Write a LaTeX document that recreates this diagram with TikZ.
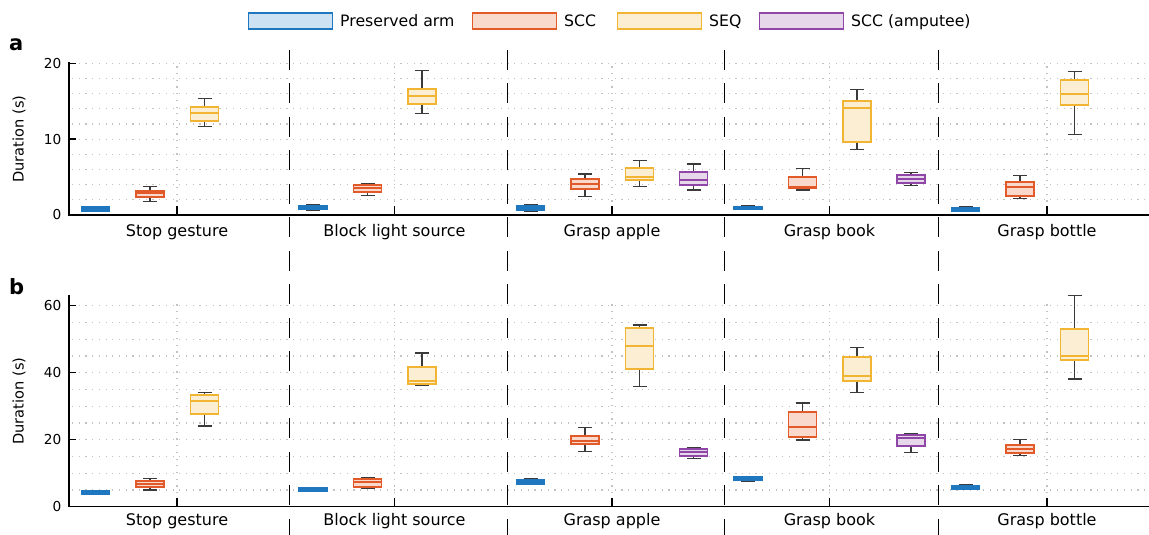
\documentclass[tikz,border=0pt]{standalone}
\usepackage{fontspec}
\setmainfont{DejaVu Sans}
\definecolor{blueE}{HTML}{1F77C0}
\definecolor{blueF}{HTML}{CDE2F3}
\definecolor{orangeE}{HTML}{E2592A}
\definecolor{orangeF}{HTML}{F8D9CC}
\definecolor{yellowE}{HTML}{F1B533}
\definecolor{yellowF}{HTML}{FBEED2}
\definecolor{purpleE}{HTML}{8F46A6}
\definecolor{purpleF}{HTML}{E6D7EA}
\definecolor{whiskc}{HTML}{3A3A3A}
\definecolor{gridc}{HTML}{C2C2C2}
\newcommand{\bpl}[7]{%
  \draw[whisk] (#1,#2) -- (#1,#3) (#1,#5) -- (#1,#6) (#1-7,#2) -- (#1+7,#2) (#1-7,#6) -- (#1+7,#6);
  \draw[boxline, draw=#7E, fill=#7F] (#1-14,#3) rectangle (#1+14,#5);
  \draw[boxline, draw=#7E] (#1-14,#4) -- (#1+14,#4);
}
\begin{document}
\begin{tikzpicture}[x=1pt,y=1pt,
  whisk/.style={draw=whiskc, line width=1.4pt},
  boxline/.style={line width=1.9pt},
  gridl/.style={draw=gridc, line width=1.25pt, dash pattern=on 1.25pt off 5.45pt},
  axisl/.style={draw=black, line width=1.4pt},
  sepl/.style={draw=black, line width=1.5pt, dash pattern=on 20pt off 13.5pt},
  catlab/.style={font=\fontsize{16}{18}\selectfont, anchor=base},
  ticklab/.style={font=\fontsize{13.7}{15}\selectfont, anchor=east, inner sep=0pt},
  ylab/.style={font=\fontsize{14.6}{16}\selectfont, rotate=90},
  leglab/.style={font=\fontsize{15.7}{18}\selectfont, anchor=base west, inner sep=0pt},
  legbox/.style={line width=1.6pt, minimum width=84pt, minimum height=16.5pt, inner sep=0pt},
  panlab/.style={font=\fontsize{21}{24}\selectfont\bfseries, anchor=base west, inner sep=0pt}]
\useasboundingbox (0,0) rectangle (1149,535);

% ---------- legend ----------
\node[legbox, draw=blueE, fill=blueF, anchor=center] (lg1) at (290.5,514) {};
\node[leglab] (lt1) at (340,508.2) {Preserved arm};
\node[legbox, draw=orangeE, fill=orangeF, anchor=center] (lg2) at (514.5,514) {};
\node[leglab] (lt2) at (564,508.2) {SCC};
\node[legbox, draw=yellowE, fill=yellowF, anchor=center] (lg3) at (659.5,514) {};
\node[leglab] (lt3) at (709,508.2) {SEQ};
\node[legbox, draw=purpleE, fill=purpleF, anchor=center] (lg4) at (801.5,514) {};
\node[leglab] (lt4) at (851,508.2) {SCC (amputee)};

% ---------- panel labels ----------
\node[panlab] (pa) at (9,484.3) {a};
\node[panlab] (pb) at (9,240) {b};

% ---------- separators ----------
\foreach \s [count=\k] in {289.7,507.7,724.7,938.7}{
  \draw[sepl] (\s,485) -- (\s,0);
}

% ---------- panel a ----------
\begin{scope}[shift={(0pt,320pt)}, y=7.58pt]
  \foreach \v in {2,4,...,20}{ \draw[gridl] (72,\v) -- (1149,\v); }
  \foreach \c in {177,394.5,612,829.5,1047}{ \draw[gridl] (\c,0) -- (\c,20); }
  \draw[axisl] (69,20.2) -- (69,0) -- (1149,0);
  \foreach \v in {0,10,20}{
    \draw[axisl] (69,\v) -- ++(7pt,0pt);
    \node[ticklab] (ta\v) at (61.5,\v) {\v};
  }
  \foreach \c/\t [count=\k] in {177/Stop gesture,394.5/Block light source,612/Grasp apple,829.5/Grasp book,1047/Grasp bottle}{
    \draw[axisl] (\c,0) -- ++(0pt,9pt);
    \node[catlab] (ca\k) at (\c,-2.9) {\t};
  }
  \node[ylab] (ya) at (19,10) {Duration (s)};
  % Stop gesture
  \bpl{95.5}{0.5}{0.57}{0.8}{1.0}{1.1}{blue}
  \bpl{150}{1.8}{2.42}{2.86}{3.17}{3.73}{orange}
  \bpl{204.5}{11.65}{12.44}{13.5}{14.29}{15.34}{yellow}
  % Block light source
  \bpl{313}{0.62}{0.79}{1.0}{1.23}{1.3}{blue}
  \bpl{367.5}{2.6}{3.08}{3.52}{3.92}{4.18}{orange}
  \bpl{422}{13.4}{14.69}{15.65}{16.58}{19.08}{yellow}
  % Grasp apple
  \bpl{530.5}{0.5}{0.66}{0.9}{1.14}{1.36}{blue}
  \bpl{585}{2.46}{3.39}{4.05}{4.75}{5.4}{orange}
  \bpl{639.5}{3.78}{4.58}{5.06}{6.24}{7.17}{yellow}
  \bpl{693.5}{3.3}{3.92}{4.62}{5.71}{6.73}{purple}
  % Grasp book
  \bpl{748}{0.7}{0.75}{0.9}{1.1}{1.27}{blue}
  \bpl{802.5}{3.3}{3.52}{3.65}{5.05}{6.11}{orange}
  \bpl{857}{8.62}{9.59}{14.16}{15.08}{16.53}{yellow}
  \bpl{911}{3.92}{4.27}{4.75}{5.24}{5.58}{purple}
  % Grasp bottle
  \bpl{965.5}{0.5}{0.53}{0.75}{0.92}{1.06}{blue}
  \bpl{1020}{2.15}{2.55}{3.65}{4.35}{5.19}{orange}
  \bpl{1074.5}{10.6}{14.55}{15.96}{17.77}{18.95}{yellow}
\end{scope}

% ---------- panel b ----------
\begin{scope}[shift={(0pt,28.3pt)}, y=3.35pt]
  \foreach \v in {5,10,...,60}{ \draw[gridl] (72,\v) -- (1149,\v); }
  \foreach \c in {177,394.5,612,829.5,1047}{ \draw[gridl] (\c,0) -- (\c,61.2); }
  \draw[axisl] (69,63.2) -- (69,0) -- (1149,0);
  \foreach \v in {0,20,40,60}{
    \draw[axisl] (69,\v) -- ++(7pt,0pt);
    \node[ticklab] (tb\v) at (61.5,\v) {\v};
  }
  \foreach \c/\t [count=\k] in {177/Stop gesture,394.5/Block light source,612/Grasp apple,829.5/Grasp book,1047/Grasp bottle}{
    \draw[axisl] (\c,0) -- ++(0pt,9pt);
    \node[catlab] (cb\k) at (\c,-5.5) {\t};
  }
  \node[ylab] (yb) at (19,31.5) {Duration (s)};
  % Stop gesture
  \bpl{95.5}{3.8}{3.9}{4.2}{4.6}{4.8}{blue}
  \bpl{150}{4.98}{5.97}{6.77}{7.67}{8.47}{orange}
  \bpl{204.5}{24.1}{27.57}{31.45}{33.25}{34.0}{yellow}
  % Block light source
  \bpl{313}{4.6}{4.68}{5.1}{5.49}{5.6}{blue}
  \bpl{367.5}{5.58}{5.97}{7.27}{8.17}{8.57}{orange}
  \bpl{422}{36.2}{36.5}{37.6}{41.6}{45.9}{yellow}
  % Grasp apple
  \bpl{530.5}{6.6}{6.68}{7.27}{7.97}{8.37}{blue}
  \bpl{585}{16.5}{18.6}{19.6}{21.0}{23.7}{orange}
  \bpl{639.5}{35.8}{41.0}{47.9}{53.3}{54.2}{yellow}
  \bpl{693.5}{14.4}{15.2}{16.2}{17.2}{17.6}{purple}
  % Grasp book
  \bpl{748}{7.57}{7.87}{8.47}{8.96}{9.1}{blue}
  \bpl{802.5}{19.9}{20.9}{23.9}{28.2}{31.0}{orange}
  \bpl{857}{34.0}{37.4}{39.1}{44.8}{47.6}{yellow}
  \bpl{911}{16.2}{18.2}{20.6}{21.4}{21.8}{purple}
  % Grasp bottle
  \bpl{965.5}{5.2}{5.37}{5.9}{6.27}{6.68}{blue}
  \bpl{1020}{15.3}{16.1}{17.3}{18.3}{20.1}{orange}
  \bpl{1074.5}{38.1}{43.7}{45.0}{53.1}{63.1}{yellow}
\end{scope}
\end{tikzpicture}
\end{document}
